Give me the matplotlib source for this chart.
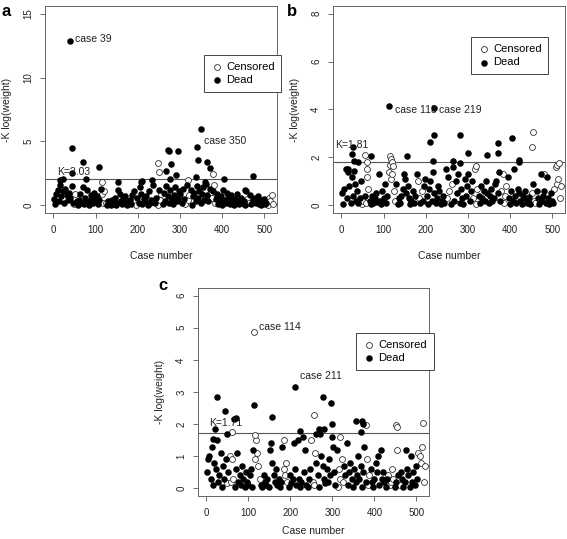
import matplotlib
matplotlib.use("Agg")
import matplotlib.pyplot as plt
import numpy as np

plt.rcParams['font.family'] = ['Liberation Sans', 'DejaVu Sans']

# case numbers sampled on the grid (every 3rd case)
cases = np.arange(1, 521, 3)

# ---- panel a ----
a_vals = [0.5, 0.1, 0.9, 1.2, 0.3, 1.6, 0.7, 1.1, 0.2, 1.3, 0.8, 0.4, 1.0, 0.6, 1.5, 0.2, 0.1, 0.9, 0.3, 0.05,
          0.4, 0.9, 0.2, 1.4, 0.1, 0.6, 1.2, 0.3, 0.05, 0.8, 0.5, 0.15, 1.0, 0.3, 0.7, 0.1, 0.4, 1.3, 0.9, 0.2,
          1.1, 0.2, 0.05, 0.3, 0.1, 0.02, 0.4, 0.15, 0.6, 0.05, 0.2, 1.2, 0.9, 0.3, 0.1, 0.5, 0.7, 0.2, 0.05, 0.3,
          0.4, 0.1, 0.8, 1.1, 0.3, 0.05, 0.6, 0.2, 1.4, 0.9, 0.1, 0.5, 0.3, 0.7, 0.05, 1.1, 0.2, 0.4, 1.6, 0.3,
          0.2, 0.6, 0.05, 1.2, 0.4, 0.9, 0.1, 1.0, 0.3, 1.5, 0.7, 0.2, 1.2, 0.5, 0.1, 0.8, 1.4, 0.3, 0.6, 1.1,
          0.9, 0.2, 1.3, 0.5, 0.1, 1.6, 0.4, 0.8, 1.2, 0.05, 0.7, 1.0, 0.3, 1.5, 0.6, 1.1, 0.2, 0.9, 1.4, 0.4,
          1.7, 0.8, 0.3, 1.3, 1.0, 0.6, 1.1, 0.2, 0.5, 0.9, 0.1, 0.3, 0.7, 0.05, 1.2, 0.4, 0.2, 1.0, 0.6, 0.1,
          0.8, 0.3, 0.05, 0.5, 0.2, 0.9, 0.1, 0.4, 0.6, 0.15, 0.3, 0.05, 1.1, 0.5, 0.2, 0.8, 0.1, 0.4, 0.3, 0.6,
          0.2, 0.7, 0.1, 0.4, 0.05, 0.3, 0.5, 0.1, 0.2, 0.05, 0.6, 0.3, 0.8, 0.1]
a_status = ("DDDDDDDDDDDDDDDDCCDD" "DDDDDDDDDDDDDDDDDDCC" "CCDDDDDDDDDDDDDDDDDD"
            "DDDDCCDDDDDDDDDDDDDD" "DDCDCCDDDDDDDDDDDDDD" "DDDDCDCCDDDDDDDDDDDD"
            "DDDDCCDCDDDDDDDDDDDD" "DDDDDDDDDDDDDCCDDDDD" "DDDDDDDDDCCCCC")
a_dead_x = [39, 43, 44, 70, 78, 108, 22, 15, 152, 207, 210, 233, 268, 272, 274, 276, 278, 290,
            296, 337, 340, 342, 350, 360, 365, 370, 405, 473, 455]
a_dead_y = [12.9, 4.45, 2.5, 3.4, 2.05, 3.0, 2.05, 1.95, 1.85, 1.8, 1.9, 2.0, 2.7, 4.3, 4.25, 2.1, 3.2, 2.35,
            4.25, 2.2, 4.55, 3.55, 5.95, 1.8, 3.4, 2.95, 2.1, 2.3, 1.2]
a_cens_x = [115, 248, 250, 318, 378, 380]
a_cens_y = [1.8, 3.35, 2.6, 2.0, 2.45, 1.6]

# ---- panel b ----
b_vals = [0.5, 0.05, 0.7, 1.5, 0.3, 1.4, 0.8, 0.1, 1.2, 0.4, 0.9, 0.2, 0.6, 0.1, 0.3, 1.0, 0.05, 0.2, 0.4, 0.1,
          1.2, 0.7, 0.2, 0.05, 0.4, 0.1, 0.3, 0.5, 0.15, 1.3, 0.2, 0.05, 0.6, 0.3, 0.9, 0.1, 0.4, 1.4, 1.7, 1.1,
          1.3, 0.6, 0.2, 0.9, 0.05, 0.3, 0.1, 0.4, 0.7, 1.3, 1.1, 0.5, 0.8, 0.3, 0.05, 0.2, 0.6, 0.1, 0.4, 1.3,
          1.0, 0.3, 0.1, 0.6, 0.2, 0.8, 1.1, 0.4, 0.05, 0.7, 1.0, 0.2, 1.4, 0.5, 0.1, 0.3, 0.8, 0.6, 0.05, 0.2,
          0.4, 0.1, 1.5, 0.3, 1.2, 0.6, 0.05, 0.9, 1.6, 0.2, 1.0, 0.5, 1.3, 0.1, 0.7, 0.3, 0.05, 1.1, 0.4, 0.8,
          1.3, 0.2, 0.6, 1.0, 0.3, 1.5, 0.05, 0.7, 0.4, 0.1, 0.8, 0.3, 0.6, 0.2, 1.0, 0.5, 0.1, 0.4, 0.7, 0.2,
          0.3, 0.9, 1.0, 0.5, 1.4, 0.2, 0.6, 1.3, 0.1, 0.4, 0.8, 1.2, 0.3, 0.05, 0.6, 0.2, 1.5, 0.4, 0.1, 0.7,
          0.5, 0.2, 0.05, 0.4, 0.3, 0.6, 0.1, 0.2, 0.35, 0.05, 0.5, 0.9, 0.2, 0.1, 0.6, 0.3, 0.05, 1.3, 0.2, 0.4,
          0.6, 0.1, 1.2, 0.3, 0.05, 0.5, 0.2, 0.1, 0.7, 1.6, 0.9, 1.1, 0.3, 0.8]
b_status = ("DDDDDDDDDDDDDDDDCCDC" "CCDDDDDDDDDDDDDDDCCC" "CCCDDDDDDDDDDDDDDDDD"
            "CCDCDDDDDDDDDDDDDDDD" "DDDCDCDCDDDDDDDDDDDD" "DDDDCCCCDDDDDDDDDDDD"
            "DDDDDDCCCCCDDDDDDDDD" "DDDDDDDDDDCDCCDDDDDD" "DDDDDDDDCCCCCC")
b_dead_x = [113, 219, 28, 25, 30, 40, 70, 155, 210, 220, 218, 280, 300, 345, 370, 372, 405, 420, 422,
            30, 15, 265, 280]
b_dead_y = [4.15, 4.08, 2.45, 2.15, 1.85, 1.8, 2.05, 2.05, 2.65, 2.95, 1.85, 2.92, 2.18, 2.12, 2.62, 2.2,
            2.82, 1.9, 1.8, 1.45, 1.5, 1.85, 1.75]
b_cens_x = [55, 60, 60, 115, 117, 120, 122, 455, 452, 510, 515, 320, 480]
b_cens_y = [2.1, 1.8, 1.5, 2.05, 1.95, 1.8, 1.65, 3.05, 2.45, 1.7, 1.75, 1.65, 1.3]

# ---- panel c ----
c_vals = [0.5, 0.9, 1.0, 0.3, 1.3, 0.1, 0.8, 0.6, 1.5, 0.2, 0.4, 1.1, 0.05, 0.7, 0.3, 0.9, 0.15, 0.5, 1.0, 0.2,
          0.9, 0.3, 0.05, 0.6, 1.1, 0.2, 0.4, 0.1, 0.7, 0.3, 0.05, 0.5, 0.2, 0.1, 0.4, 0.6, 0.05, 1.2, 0.9, 1.5,
          1.1, 0.7, 0.3, 0.1, 0.05, 0.4, 0.2, 0.1, 0.3, 0.05, 1.2, 1.4, 0.8, 0.4, 0.2, 0.6, 0.1, 0.3, 0.05, 0.2,
          1.3, 0.6, 0.4, 0.8, 0.2, 0.05, 0.4, 0.15, 0.3, 1.4, 0.6, 0.1, 1.5, 0.3, 0.05, 0.2, 1.6, 0.5, 1.2, 0.1,
          0.05, 0.3, 0.6, 1.5, 0.2, 0.1, 1.1, 0.8, 0.4, 0.05, 1.7, 1.0, 0.7, 0.3, 0.15, 0.6, 0.2, 0.9, 0.4, 1.6,
          1.3, 0.5, 0.1, 1.2, 0.05, 0.6, 0.3, 0.9, 0.2, 0.7, 0.4, 1.4, 0.1, 0.5, 0.8, 0.3, 0.05, 0.6, 0.2, 0.4,
          1.0, 0.3, 0.7, 0.05, 0.5, 1.3, 0.2, 0.9, 0.1, 0.4, 0.6, 0.2, 0.05, 0.3, 0.8, 0.5, 1.0, 0.1, 1.2, 0.3,
          0.5, 0.2, 0.05, 0.3, 0.4, 0.1, 0.2, 0.6, 0.3, 0.05, 0.2, 1.2, 0.4, 0.1, 0.5, 0.3, 0.05, 0.2, 1.2, 0.6,
          0.4, 0.05, 1.0, 0.2, 0.5, 0.1, 0.7, 0.3, 1.1, 1.0, 0.8, 1.3, 0.2, 0.7]
c_status = ("DDDDDDDDDDDDDDDDCDCC" "CCDDDDDDDDDDDDDDDDCC" "CCCDDDDDDDDDDDDDDDDD"
            "DCCCCDDDDDDDDDDDDDDD" "DDDCCCCDDDDDDDDDDDDD" "DDDDCCCCCDDDDDDDDDDD"
            "DDDDDDDCCCDDDDDDDDDD" "DDDDCCCCCDDCDCDDDDDD" "DDDDDDDDCCCCCC")
c_dead_x = [25, 45, 48, 70, 65, 20, 15, 113, 155, 211, 278, 297, 300, 222, 268, 280, 355, 370, 372, 368, 260]
c_dead_y = [2.85, 2.4, 1.7, 2.2, 2.15, 1.85, 1.55, 2.6, 2.22, 3.15, 2.85, 2.65, 2.0, 1.8, 1.85, 1.85, 2.1,
            2.1, 2.0, 1.75, 1.7]
c_cens_x = [114, 60, 255, 380, 452, 455, 515, 116, 318, 185]
c_cens_y = [4.87, 1.75, 2.28, 1.97, 1.97, 1.9, 2.02, 1.65, 1.6, 1.5]

W, H = 567, 539
fig = plt.figure(figsize=(W / 100, H / 100), dpi=100)


def px_axes(l, t, r, b):
    return fig.add_axes([l / W, 1 - b / H, (r - l) / W, (b - t) / H])


def panel(ax, vals, status, dx, dy, cx, cy, ymax, ystep, K, klab_xy, notes, leg_anchor, xpad=12):
    st = np.array(list(status))
    vals = np.array(vals)
    d = st == 'D'
    ax.scatter(cases[~d], vals[~d], s=18, facecolors='white', edgecolors='#333333', linewidths=0.6, zorder=2)
    ax.scatter(cx, cy, s=18, facecolors='white', edgecolors='#333333', linewidths=0.6, zorder=2)
    ax.scatter(cases[d], vals[d], s=22, color='black', linewidths=0, zorder=3)
    ax.scatter(dx, dy, s=22, color='black', linewidths=0, zorder=3)
    ax.axhline(K, color='#555555', lw=0.8, zorder=1)
    ax.text(klab_xy[0], klab_xy[1], 'K=%.2f' % K, fontsize=7.5, va='center', color='#222222', zorder=4)
    for txt, x, y in notes:
        ax.text(x, y, txt, fontsize=7.5, va='center', color='#222222')
    ax.set_xlim(-20, 530)
    ax.set_ylim(-0.04 * ymax, 1.04 * ymax)
    ax.set_xticks(range(0, 501, 100))
    ax.set_yticks(np.arange(0, ymax + 0.01, ystep))
    ax.set_yticklabels(['%d' % v for v in np.arange(0, ymax + 0.01, ystep)], rotation=90, va='center')
    ax.tick_params(labelsize=7, length=3.5, width=0.6, color='#555555', labelcolor='#222222', pad=5)
    for s in ax.spines.values():
        s.set_color('#666666')
        s.set_linewidth(0.7)
    ax.set_xlabel('Case number', fontsize=7.5, color='#222222', labelpad=xpad)
    ax.set_ylabel('-K log(weight)', fontsize=7.5, color='#222222', labelpad=8)
    h1 = ax.scatter([], [], s=18, facecolors='white', edgecolors='#333333', linewidths=0.6)
    h2 = ax.scatter([], [], s=22, color='black', linewidths=0)
    leg = ax.legend([h1, h2], ['Censored', 'Dead'], loc='upper left', bbox_to_anchor=leg_anchor,
                    fontsize=8, fancybox=False, framealpha=1, edgecolor='#444444',
                    handletextpad=0.2, borderpad=0.6, handlelength=1.2, labelspacing=0.3)
    leg.get_frame().set_linewidth(0.7)


ax_a = px_axes(45, 6, 277, 213)
panel(ax_a, a_vals, a_status, a_dead_x, a_dead_y, a_cens_x, a_cens_y, 15, 5, 2.03, (9, 2.6),
      [('case 39', 52, 13.0), ('case 350', 358, 5.05)], (0.66, 0.79))

ax_b = px_axes(333, 6, 565, 213)
panel(ax_b, b_vals, b_status, b_dead_x, b_dead_y, b_cens_x, b_cens_y, 8, 2, 1.81, (-15, 2.5),
      [('case 113', 126, 3.99), ('case 219', 232, 3.99)], (0.57, 0.875))

ax_c = px_axes(198, 288, 429, 496)
panel(ax_c, c_vals, c_status, c_dead_x, c_dead_y, c_cens_x, c_cens_y, 6, 1, 1.71, (7, 2.03),
      [('case 114', 126, 5.02), ('case 211', 222, 3.5)], (0.66, 0.81), xpad=6)

fig.text(1 / W, 1 - 12 / H, 'a', fontsize=12, fontweight='bold', va='center')
fig.text(287 / W, 1 - 12 / H, 'b', fontsize=12, fontweight='bold', va='center')
fig.text(158 / W, 1 - 285 / H, 'c', fontsize=12, fontweight='bold', va='center')

fig.savefig('out.png', dpi=100)
